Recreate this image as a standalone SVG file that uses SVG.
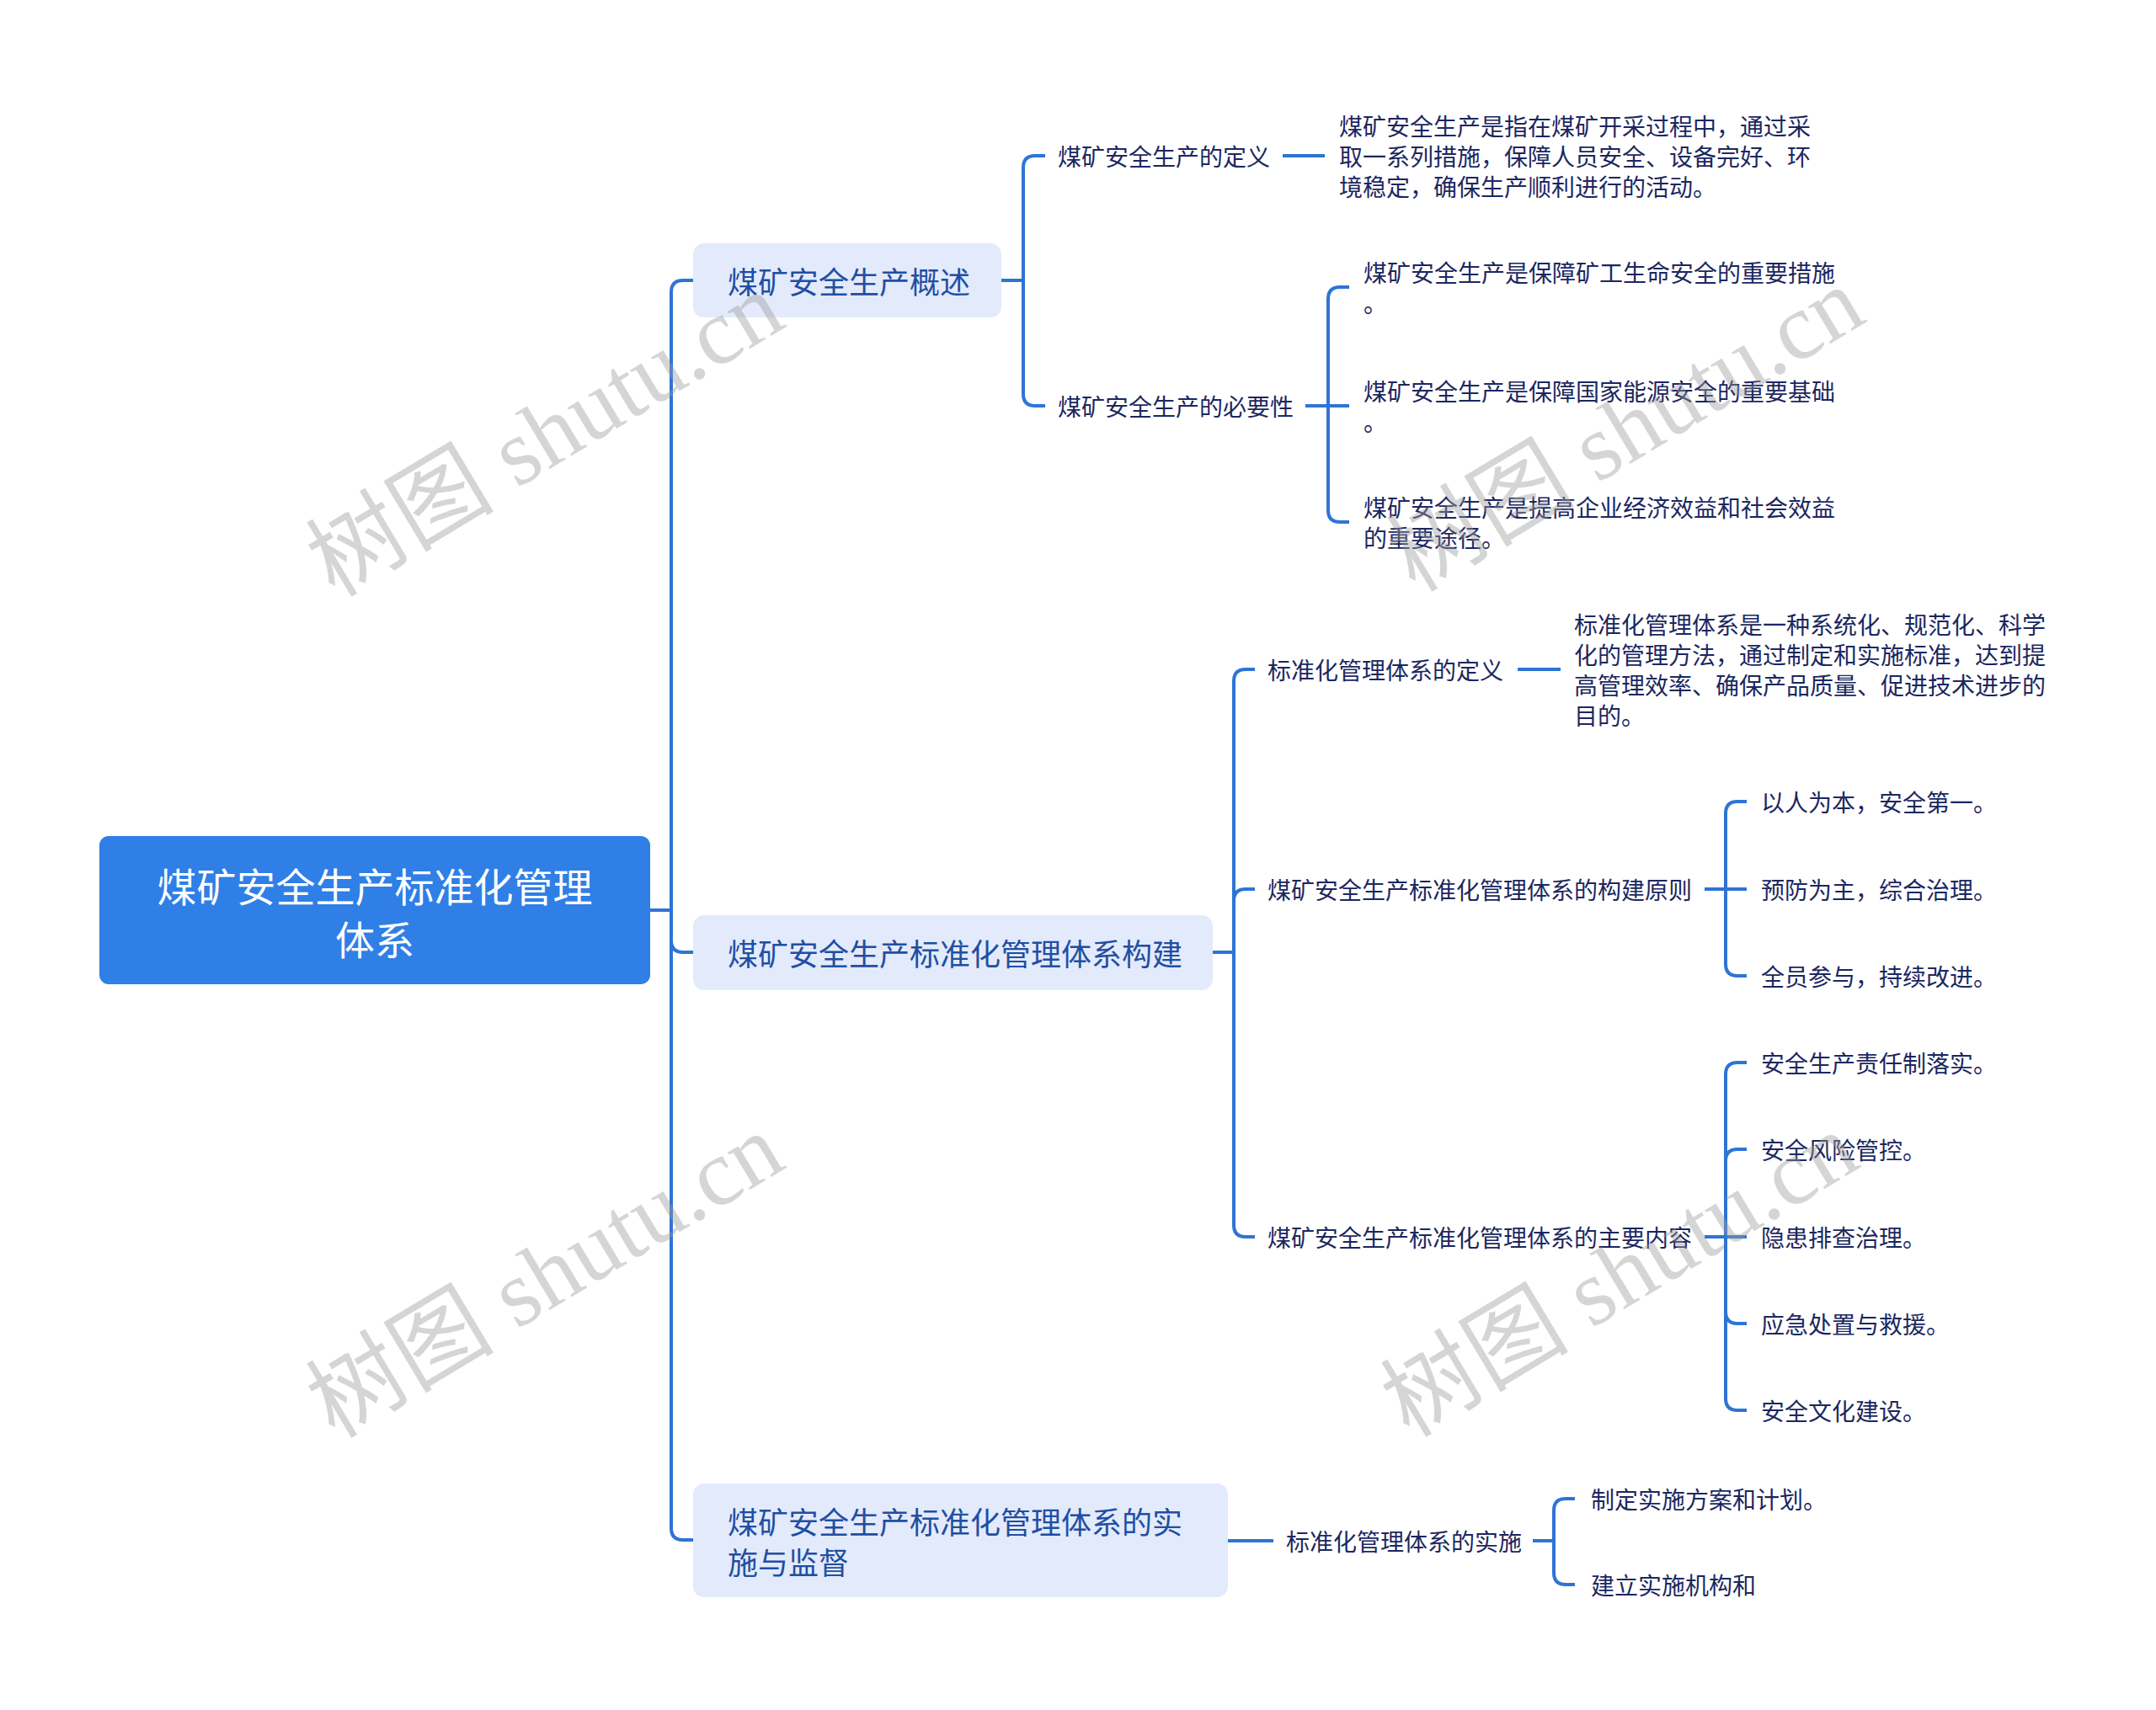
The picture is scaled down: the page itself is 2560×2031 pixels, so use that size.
<svg xmlns="http://www.w3.org/2000/svg" width="2560" height="2031" viewBox="0 0 2560 2031">
<style>
.bg{fill:#ffffff}
.root{fill:#2f7fe6}
.l1{fill:#e3eafb}
.rt{font-family:"Noto Sans CJK SC","Noto Sans",sans-serif;font-size:47px;fill:#ffffff;text-anchor:middle;dominant-baseline:central}
.t1{font-family:"Noto Sans CJK SC","Noto Sans",sans-serif;font-size:36px;fill:#1f4fa3;dominant-baseline:central}
.t2{font-family:"Noto Sans CJK SC","Noto Sans",sans-serif;font-size:28px;fill:#1b2760;dominant-baseline:central}
.ln{fill:none;stroke:#2e74d6;stroke-width:4;stroke-linecap:butt}
.wm{font-family:"Liberation Serif","Noto Sans CJK SC",serif;font-size:112px;fill:#9a9a9a;fill-opacity:0.42;text-anchor:middle;dominant-baseline:central}
</style>
<rect class="bg" x="0" y="0" width="2560" height="2031"/>

<g id="connectors">
  <path class="ln" d="M771,1081 H797"/>
  <path class="ln" d="M797,1081 V347 Q797,333 811,333 H823"/>
  <path class="ln" d="M797,1081 V1117 Q797,1131 811,1131 H823"/>
  <path class="ln" d="M797,1081 V1815 Q797,1829 811,1829 H823"/>

  <path class="ln" d="M1189,333 H1215"/>
  <path class="ln" d="M1215,333 V199 Q1215,185 1229,185 H1241"/>
  <path class="ln" d="M1215,333 V468 Q1215,482 1229,482 H1241"/>
  <path class="ln" d="M1523,185 H1573"/>
  <path class="ln" d="M1550,482 H1577"/>
  <path class="ln" d="M1577,482 V355 Q1577,341 1591,341 H1602"/>
  <path class="ln" d="M1577,482 H1602"/>
  <path class="ln" d="M1577,482 V606 Q1577,620 1591,620 H1602"/>

  <path class="ln" d="M1440,1131 H1465"/>
  <path class="ln" d="M1465,1131 V809 Q1465,795 1479,795 H1490"/>
  <path class="ln" d="M1465,1131 V1070 Q1465,1056 1479,1056 H1490"/>
  <path class="ln" d="M1465,1131 V1455 Q1465,1469 1479,1469 H1490"/>
  <path class="ln" d="M1802,795 H1853"/>
  <path class="ln" d="M2024,1056 H2049"/>
  <path class="ln" d="M2049,1056 V966 Q2049,952 2063,952 H2074"/>
  <path class="ln" d="M2049,1056 H2074"/>
  <path class="ln" d="M2049,1056 V1145 Q2049,1159 2063,1159 H2074"/>
  <path class="ln" d="M2024,1469 H2049"/>
  <path class="ln" d="M2049,1469 V1276 Q2049,1262 2063,1262 H2074"/>
  <path class="ln" d="M2049,1469 V1379 Q2049,1365 2063,1365 H2074"/>
  <path class="ln" d="M2049,1469 H2074"/>
  <path class="ln" d="M2049,1469 V1558 Q2049,1572 2063,1572 H2074"/>
  <path class="ln" d="M2049,1469 V1661 Q2049,1675 2063,1675 H2074"/>

  <path class="ln" d="M1458,1830 H1512"/>
  <path class="ln" d="M1820,1830 H1845"/>
  <path class="ln" d="M1845,1830 V1794 Q1845,1780 1859,1780 H1870"/>
  <path class="ln" d="M1845,1830 V1868 Q1845,1882 1859,1882 H1870"/>
</g>

<g id="root">
  <rect class="root" x="118" y="993" width="654" height="176" rx="11"/>
  <text class="rt" x="445" y="1050">煤矿安全生产标准化管理</text>
  <text class="rt" x="445" y="1113">体系</text>
</g>

<g id="n1">
  <rect class="l1" x="823" y="289" width="366" height="88" rx="13"/>
  <text class="t1" x="864" y="333">煤矿安全生产概述</text>
</g>
<g id="n1-1"><text class="t2" x="1256" y="185">煤矿安全生产的定义</text></g>
<g id="n1-1-1">
  <text class="t2" x="1590" y="149">煤矿安全生产是指在煤矿开采过程中，通过采</text>
  <text class="t2" x="1590" y="185">取一系列措施，保障人员安全、设备完好、环</text>
  <text class="t2" x="1590" y="221">境稳定，确保生产顺利进行的活动。</text>
</g>
<g id="n1-2"><text class="t2" x="1256" y="482">煤矿安全生产的必要性</text></g>
<g id="n1-2-1">
  <text class="t2" x="1619" y="323">煤矿安全生产是保障矿工生命安全的重要措施</text>
  <text class="t2" x="1619" y="359">。</text>
</g>
<g id="n1-2-2">
  <text class="t2" x="1619" y="464">煤矿安全生产是保障国家能源安全的重要基础</text>
  <text class="t2" x="1619" y="500">。</text>
</g>
<g id="n1-2-3">
  <text class="t2" x="1619" y="602">煤矿安全生产是提高企业经济效益和社会效益</text>
  <text class="t2" x="1619" y="638">的重要途径。</text>
</g>

<g id="n2">
  <rect class="l1" x="823" y="1087" width="617" height="89" rx="13"/>
  <text class="t1" x="864" y="1131">煤矿安全生产标准化管理体系构建</text>
</g>
<g id="n2-1"><text class="t2" x="1505" y="795">标准化管理体系的定义</text></g>
<g id="n2-1-1">
  <text class="t2" x="1869" y="741">标准化管理体系是一种系统化、规范化、科学</text>
  <text class="t2" x="1869" y="777">化的管理方法，通过制定和实施标准，达到提</text>
  <text class="t2" x="1869" y="813">高管理效率、确保产品质量、促进技术进步的</text>
  <text class="t2" x="1869" y="849">目的。</text>
</g>
<g id="n2-2"><text class="t2" x="1505" y="1056">煤矿安全生产标准化管理体系的构建原则</text></g>
<g id="n2-2-1"><text class="t2" x="2091" y="952">以人为本，安全第一。</text></g>
<g id="n2-2-2"><text class="t2" x="2091" y="1056">预防为主，综合治理。</text></g>
<g id="n2-2-3"><text class="t2" x="2091" y="1159">全员参与，持续改进。</text></g>
<g id="n2-3"><text class="t2" x="1505" y="1469">煤矿安全生产标准化管理体系的主要内容</text></g>
<g id="n2-3-1"><text class="t2" x="2091" y="1262">安全生产责任制落实。</text></g>
<g id="n2-3-2"><text class="t2" x="2091" y="1365">安全风险管控。</text></g>
<g id="n2-3-3"><text class="t2" x="2091" y="1469">隐患排查治理。</text></g>
<g id="n2-3-4"><text class="t2" x="2091" y="1572">应急处置与救援。</text></g>
<g id="n2-3-5"><text class="t2" x="2091" y="1675">安全文化建设。</text></g>

<g id="n3">
  <rect class="l1" x="823" y="1762" width="635" height="135" rx="13"/>
  <text class="t1" x="864" y="1806">煤矿安全生产标准化管理体系的实</text>
  <text class="t1" x="864" y="1854">施与监督</text>
</g>
<g id="n3-1"><text class="t2" x="1527" y="1830">标准化管理体系的实施</text></g>
<g id="n3-1-1"><text class="t2" x="1889" y="1780">制定实施方案和计划。</text></g>
<g id="n3-1-2"><text class="t2" x="1889" y="1882">建立实施机构和</text></g>

<g id="watermarks">
  <text class="wm" transform="rotate(-31 647 516)" x="647" y="516">树图 shutu.cn</text>
  <text class="wm" transform="rotate(-31 1930 510)" x="1930" y="510">树图 shutu.cn</text>
  <text class="wm" transform="rotate(-31 647 1515)" x="647" y="1515">树图 shutu.cn</text>
  <text class="wm" transform="rotate(-31 1923 1514)" x="1923" y="1514">树图 shutu.cn</text>
</g>
</svg>
